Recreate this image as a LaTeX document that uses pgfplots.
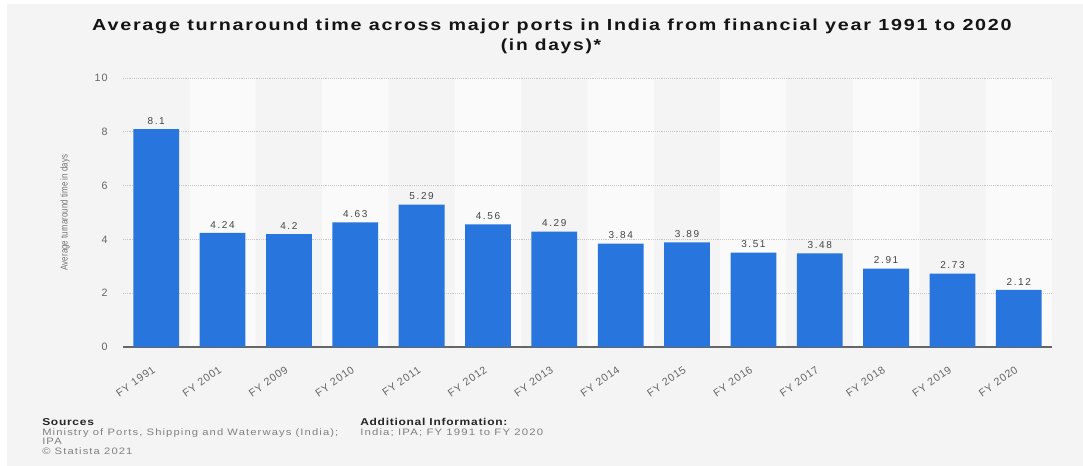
\documentclass[border=0pt]{standalone}
\usepackage{fontspec}
\setmainfont{Liberation Sans}
\usepackage{pgfplots}
\pgfplotsset{compat=1.18}
\definecolor{bg}{HTML}{F4F4F4}
\definecolor{band}{HTML}{FAFAFA}
\definecolor{barblue}{HTML}{2876DD}
\definecolor{tickgray}{HTML}{666666}
\definecolor{labgray}{HTML}{444444}
\definecolor{footgray}{HTML}{808080}
\pgfdeclarelayer{bgpic}
\pgfplotsset{
  layers/mylayers/.define layer set={bgpic,axis background,axis grid,axis ticks,axis lines,axis tick labels,pre main,main,axis descriptions,axis foreground}{},
}
\newcommand{\foot}{\fontsize{7}{8}\selectfont\addfontfeatures{LetterSpace=10}}
\newcommand{\footb}{\fontsize{7.5}{9}\selectfont\bfseries\addfontfeatures{LetterSpace=6}}
\begin{document}
\begin{tikzpicture}
\begin{scope}[x=0.75pt,y=0.75pt]
\node[anchor=base, inner sep=0pt, font=\fontsize{12}{14}\selectfont\bfseries\addfontfeatures{LetterSpace=9}, text=black!92] at (552,435)
  {\scalebox{1.233}[1]{Average turnaround time across major ports in India from financial year 1991 to 2020}};
\node[anchor=base, inner sep=0pt, font=\fontsize{12}{14}\selectfont\bfseries\addfontfeatures{LetterSpace=9}, text=black!92] at (551,415)
  {\scalebox{1.2}[1]{(in days)*}};
\node[anchor=base west, inner sep=0pt, font=\footb, text=black!85] at (42,40) {\scalebox{1.2}[1]{Sources}};
\node[anchor=base west, inner sep=0pt, font=\foot, text=footgray] at (42,30.5) {\scalebox{1.2}[1]{Ministry of Ports, Shipping and Waterways (India);}};
\node[anchor=base west, inner sep=0pt, font=\foot, text=footgray] at (42,21) {\scalebox{1.2}[1]{IPA}};
\node[anchor=base west, inner sep=0pt, font=\foot, text=footgray] at (42,11.5) {\scalebox{1.2}[1]{© Statista 2021}};
\node[anchor=base west, inner sep=0pt, font=\footb, text=black!85] at (360,40) {\scalebox{1.2}[1]{Additional Information:}};
\node[anchor=base west, inner sep=0pt, font=\foot, text=footgray] at (360,30.5) {\scalebox{1.22}[1]{India; IPA; FY 1991 to FY 2020}};
\end{scope}
\begin{axis}[
  set layers=mylayers,
  at={(92.25pt,89.25pt)}, anchor=south west,
  scale only axis, width=696.75pt, height=201.75pt,
  xmin=-0.5, xmax=13.5, ymin=0, ymax=10,
  xtick={0,...,13},
  xticklabels={FY 1991,FY 2001,FY 2009,FY 2010,FY 2011,FY 2012,FY 2013,FY 2014,FY 2015,FY 2016,FY 2017,FY 2018,FY 2019,FY 2020},
  ytick={0,2,4,6,8,10},
  major tick length=0pt,
  axis x line*=bottom, axis y line*=left,
  x axis line style={-, draw=black!60, line width=1pt},
  y axis line style={draw=none},
  ymajorgrids, grid style={densely dotted, draw=black!22, line width=0.6pt},
  /pgf/number format/assume math mode=true,
  yticklabel style={font=\fontsize{8}{9}\selectfont\addfontfeatures{LetterSpace=10}, text=tickgray, xshift=-8pt},
  xticklabel style={font=\fontsize{8}{9}\selectfont\addfontfeatures{LetterSpace=8}, text=tickgray, xshift=-2.5pt, yshift=-9pt, rotate=35, anchor=north east},
  ylabel={\scalebox{0.8}[1]{Average turnaround time in days}},
  every axis y label/.style={at={(axis description cs:-0.0624,0.5)}, rotate=90, anchor=center, font=\fontsize{7.5}{8}\selectfont, text=black!55},
]
\addplot[ybar, bar width=1, bar shift=0pt, fill=band, draw=none, on layer=axis background]
  coordinates {(1,10)(3,10)(5,10)(7,10)(9,10)(11,10)(13,10)};
\addplot[ybar, bar width=0.69, bar shift=0pt, fill=barblue, draw=none,
  nodes near coords,
  nodes near coords style={font=\fontsize{7.5}{9}\selectfont\addfontfeatures{LetterSpace=16}, text=labgray}]
  coordinates {(0,8.1)(1,4.24)(2,4.2)(3,4.63)(4,5.29)(5,4.56)(6,4.29)(7,3.84)(8,3.89)(9,3.51)(10,3.48)(11,2.91)(12,2.73)(13,2.12)};
\end{axis}
\begin{pgfonlayer}{bgpic}
\begin{scope}[x=0.75pt,y=0.75pt]
\fill[white] (0,0) rectangle (1083,466);
\fill[bg] (7,0) rectangle (1083,462);
\end{scope}
\end{pgfonlayer}
\end{tikzpicture}
\end{document}
